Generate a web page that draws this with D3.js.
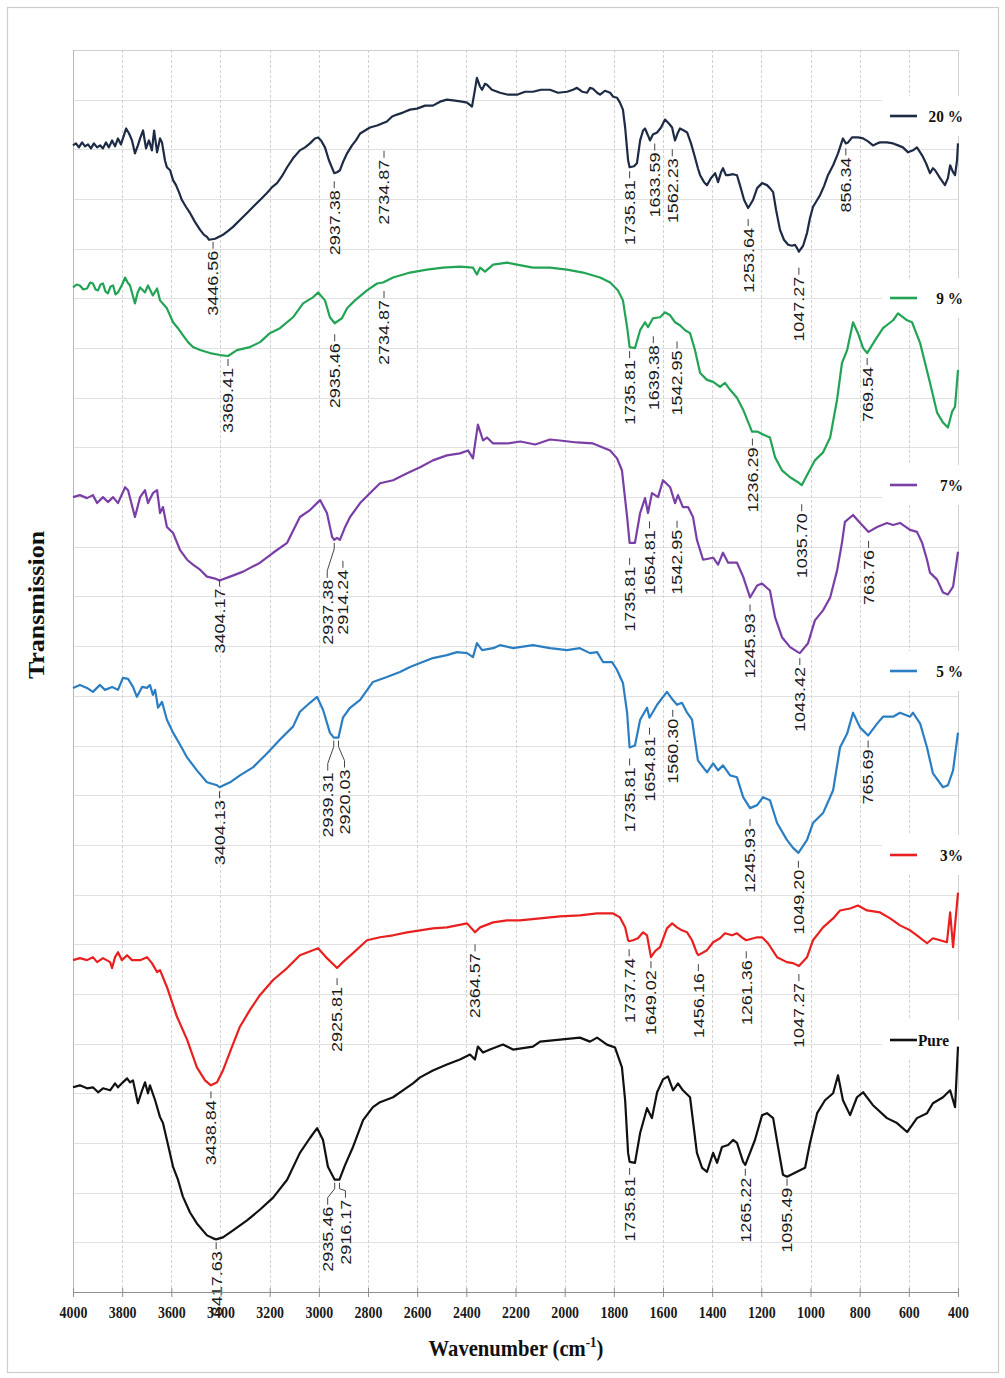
<!DOCTYPE html>
<html>
<head>
<meta charset="utf-8">
<script src="https://cdn.jsdelivr.net/npm/d3@7/dist/d3.min.js"></script>
<style>
  html, body { margin: 0; padding: 0; background: #fff; }
  svg { display: block; }
</style>
</head>
<body>
<svg id="chart" width="1005" height="1378"></svg>
<script>
// ---------- data: FTIR spectra, [wavenumber (cm-1), transmission (a.u., offset stack)] ----------
const wavenumberTicks = d3.range(4000, 399, -200);
const seriesNames = ["20 %", "9 %", "7%", "5 %", "3%", "Pure"];

const spectrum20 = [[4000,1154],[3988,1156],[3976,1152],[3963,1157],[3951,1153],[3939,1155],[3927,1151],[3915,1156],[3902,1152],[3890,1154],[3878,1151],[3866,1157],[3854,1152],[3841,1159],[3829,1153],[3817,1161],[3805,1155],[3793,1164],[3784,1171],[3772,1166],[3760,1159],[3748,1146],[3736,1154],[3727,1161],[3715,1169],[3703,1151],[3691,1159],[3679,1149],[3670,1169],[3658,1147],[3646,1161],[3638,1157],[3626,1139],[3618,1132],[3605,1129],[3593,1119],[3581,1114],[3569,1107],[3557,1099],[3540,1092],[3524,1086],[3504,1077],[3483,1069],[3467,1064],[3455,1062],[3446.56,1059],[3422,1060],[3406,1062],[3390,1064],[3369,1068],[3349,1072],[3321,1079],[3292,1086],[3260,1094],[3231,1101],[3211,1106],[3190,1112],[3170,1116],[3150,1123],[3129,1132],[3105,1141],[3077,1149],[3056,1152],[3036,1156],[3016,1161],[3003,1162],[2991,1159],[2975,1152],[2959,1139],[2937.38,1126],[2926,1127],[2914,1129],[2902,1137],[2885,1146],[2865,1154],[2849,1159],[2832,1166],[2812,1169],[2792,1172],[2763,1174],[2743,1176],[2723,1178],[2702,1183],[2682,1185],[2658,1187],[2629,1190],[2601,1191],[2568,1194],[2536,1194],[2507,1198],[2479,1200],[2446,1199],[2418,1198],[2397,1197],[2377,1193],[2365,1210],[2357,1222],[2344,1213],[2336,1210],[2324,1216],[2316,1215],[2296,1210],[2263,1207],[2230,1205],[2194,1205],[2161,1208],[2129,1208],[2096,1210],[2060,1210],[2027,1207],[1990,1208],[1966,1210],[1950,1212],[1929,1208],[1909,1207],[1897,1212],[1885,1211],[1868,1207],[1856,1205],[1836,1209],[1815,1207],[1803,1203],[1787,1202],[1775,1197],[1763,1190],[1754,1172],[1742,1139],[1735.81,1132],[1718,1133],[1706,1136],[1693,1159],[1681,1169],[1673,1171],[1661,1164],[1653,1159],[1641,1165],[1624,1167],[1608,1172],[1592,1180],[1576,1176],[1563,1172],[1555,1163],[1551,1159],[1539,1167],[1531,1171],[1515,1169],[1502,1167],[1486,1156],[1470,1142],[1458,1131],[1449,1124],[1433,1117],[1421,1114],[1405,1121],[1388,1126],[1376,1117],[1364,1127],[1356,1131],[1344,1124],[1335,1124],[1315,1125],[1299,1124],[1287,1114],[1270,1099],[1253.64,1091],[1246,1094],[1234,1099],[1217,1111],[1197,1116],[1177,1114],[1165,1111],[1152,1107],[1140,1089],[1124,1069],[1108,1059],[1091,1054],[1075,1053],[1063,1054],[1051,1049],[1047.27,1047],[1030,1053],[1014,1066],[1002,1081],[990,1092],[973,1099],[961,1104],[945,1113],[929,1124],[908,1134],[888,1146],[868,1161],[856.34,1156],[847,1157],[831,1162],[807,1162],[786,1161],[766,1158],[746,1154],[729,1156],[717,1157],[689,1157],[664,1156],[644,1154],[624,1152],[603,1147],[583,1149],[567,1152],[546,1144],[530,1136],[514,1126],[502,1131],[493,1129],[473,1121],[453,1114],[441,1121],[432,1134],[420,1127],[412,1124],[404,1139],[400,1156]];

const spectrum9 = [[4000,1011],[3985,1014],[3972,1013],[3958,1009],[3943,1010],[3930,1016],[3919,1015],[3908,1009],[3898,1008],[3888,1014],[3878,1015],[3868,1007],[3858,1005],[3847,1012],[3837,1013],[3827,1004],[3817,1006],[3800,1014],[3788,1021],[3778,1016],[3768,1013],[3748,995],[3737,1006],[3727,1011],[3707,1006],[3695,1013],[3675,1003],[3658,1010],[3646,998],[3618,990],[3593,976],[3573,970],[3553,963],[3532,956],[3512,951],[3483,948],[3443,945],[3402,943],[3369.41,942],[3333,948],[3280,951],[3239,956],[3199,965],[3158,970],[3105,981],[3064,995],[3024,1001],[3003,1006],[2975,998],[2955,981],[2935.46,975],[2906,980],[2885,990],[2853,998],[2804,1008],[2763,1015],[2739,1016],[2698,1021],[2629,1026],[2560,1029],[2495,1031],[2426,1032],[2373,1031],[2357,1024],[2344,1031],[2324,1027],[2291,1034],[2234,1036],[2194,1034],[2129,1031],[2060,1031],[1990,1029],[1925,1026],[1856,1021],[1815,1016],[1783,1008],[1763,998],[1746,971],[1735.81,951],[1714,950],[1693,968],[1673,976],[1661,971],[1641,980],[1612,981],[1592,986],[1571,983],[1551,976],[1531,973],[1510,968],[1490,965],[1470,948],[1449,925],[1421,918],[1396,916],[1368,911],[1348,915],[1327,908],[1299,900],[1274,888],[1238,866],[1217,866],[1193,863],[1165,860],[1144,840],[1116,827],[1083,820],[1051,815],[1035.70,812],[1010,824],[982,837],[949,845],[920,860],[892,898],[872,935],[851,948],[827,976],[807,965],[786,950],[769.54,945],[737,958],[705,970],[664,978],[644,985],[607,978],[587,976],[554,955],[514,915],[485,885],[461,875],[441,870],[424,886],[412,891],[400,928]];

const spectrum7 = [[4000,800],[3972,802],[3943,799],[3919,802],[3902,794],[3878,800],[3858,795],[3837,800],[3817,794],[3788,810],[3776,807],[3748,780],[3727,800],[3707,807],[3695,794],[3675,804],[3658,807],[3646,784],[3634,790],[3618,770],[3593,764],[3565,747],[3536,737],[3512,732],[3483,727],[3455,720],[3422,718],[3404.17,716],[3361,720],[3308,725],[3239,734],[3186,744],[3129,754],[3077,780],[3036,787],[2995,797],[2967,784],[2946,760],[2937.38,757],[2926,759],[2914.24,757],[2893,770],[2873,780],[2832,794],[2780,807],[2751,814],[2698,817],[2641,824],[2588,830],[2536,837],[2479,842],[2426,844],[2393,847],[2373,839],[2353,873],[2332,857],[2316,860],[2291,854],[2234,854],[2180,856],[2120,853],[2060,858],[2019,857],[1950,855],[1885,854],[1815,847],[1787,839],[1767,827],[1746,780],[1735.81,754],[1714,754],[1693,784],[1673,799],[1661,784],[1645,804],[1620,800],[1600,817],[1571,810],[1551,794],[1539,802],[1519,790],[1498,790],[1478,780],[1462,757],[1437,737],[1396,739],[1376,732],[1356,744],[1335,734],[1299,734],[1274,720],[1245.93,699],[1217,711],[1197,713],[1165,706],[1144,679],[1116,659],[1083,649],[1051,644],[1043.42,643],[1010,653],[982,676],[949,686],[920,699],[892,726],[872,754],[860,775],[827,782],[798,774],[763.76,765],[729,770],[689,774],[664,772],[636,774],[595,767],[567,765],[546,754],[526,737],[514,724],[485,717],[461,704],[441,702],[420,710],[400,745]];

const spectrum5 = [[4000,608],[3972,611],[3943,608],[3919,604],[3890,611],[3870,606],[3841,609],[3817,606],[3797,618],[3776,617],[3756,609],[3740,599],[3719,609],[3699,608],[3687,611],[3675,601],[3666,606],[3654,588],[3638,594],[3618,576],[3593,563],[3565,551],[3536,538],[3496,525],[3455,513],[3414,510],[3404.13,508],[3361,513],[3321,520],[3268,528],[3211,542],[3158,556],[3105,569],[3077,584],[3036,593],[3007,599],[2983,586],[2955,563],[2939.31,558],[2920.03,558],[2902,578],[2873,588],[2832,596],[2780,614],[2723,619],[2670,624],[2629,629],[2588,633],[2536,638],[2479,641],[2438,644],[2397,643],[2373,639],[2357,653],[2336,646],[2291,648],[2263,651],[2210,648],[2129,651],[2060,648],[1990,646],[1938,648],[1897,643],[1868,644],[1844,634],[1807,634],[1787,626],[1763,613],[1746,583],[1735.81,548],[1714,550],[1693,576],[1665,588],[1654.81,578],[1624,591],[1584,604],[1560.30,596],[1543,591],[1523,593],[1502,583],[1482,576],[1458,535],[1421,523],[1396,532],[1376,525],[1356,530],[1327,520],[1299,518],[1274,498],[1245.93,487],[1217,490],[1193,498],[1165,495],[1136,472],[1096,455],[1071,447],[1049.20,442],[1014,455],[990,472],[949,482],[908,505],[880,548],[851,562],[827,583],[798,568],[765.69,560],[729,572],[705,579],[664,579],[636,583],[595,579],[583,583],[554,572],[526,548],[502,522],[461,508],[441,510],[420,525],[400,563]];

const spectrum3 = [[4000,334],[3972,336],[3943,334],[3919,337],[3902,332],[3878,336],[3849,332],[3841,326],[3829,337],[3817,342],[3801,334],[3780,339],[3760,334],[3727,334],[3699,337],[3679,331],[3658,322],[3646,324],[3618,307],[3577,277],[3536,254],[3496,226],[3463,213],[3438.84,208],[3414,211],[3390,223],[3353,247],[3321,267],[3280,284],[3239,299],[3186,314],[3129,326],[3077,339],[3024,344],[3003,346],[2967,336],[2925.81,326],[2902,332],[2861,341],[2804,354],[2751,357],[2698,359],[2641,362],[2588,364],[2536,366],[2479,367],[2397,371],[2364.57,362],[2344,367],[2291,372],[2234,374],[2182,374],[2100,376],[2019,378],[1938,379],[1868,381],[1803,381],[1775,377],[1754,367],[1742,354],[1737.74,353],[1722,354],[1702,356],[1681,362],[1665,359],[1649.02,337],[1632,343],[1612,347],[1584,366],[1563,371],[1543,367],[1523,364],[1502,362],[1482,354],[1462,341],[1456.16,339],[1421,344],[1396,352],[1368,356],[1348,361],[1319,359],[1299,361],[1274,356],[1261.36,354],[1217,357],[1197,357],[1173,351],[1136,337],[1096,332],[1071,331],[1047.27,328],[1014,337],[990,354],[949,367],[908,376],[880,384],[839,386],[807,389],[770,384],[717,382],[676,376],[636,369],[595,364],[567,359],[526,351],[502,356],[473,354],[445,352],[432,382],[420,347],[400,402]];

const spectrumPure = [[4000,206],[3972,208],[3943,205],[3919,206],[3898,201],[3878,205],[3849,203],[3829,210],[3817,206],[3797,211],[3780,215],[3768,211],[3756,213],[3736,190],[3719,203],[3707,211],[3695,200],[3687,208],[3666,193],[3646,176],[3634,170],[3618,153],[3593,126],[3573,113],[3553,96],[3524,80],[3496,69],[3455,57],[3430,54],[3417.63,53],[3390,55],[3349,62],[3292,72],[3239,83],[3186,95],[3129,113],[3077,140],[3036,155],[3007,165],[2983,153],[2963,126],[2935.46,113],[2916.17,113],[2893,128],[2861,146],[2820,173],[2780,186],[2751,191],[2698,196],[2658,203],[2617,210],[2588,216],[2536,223],[2479,229],[2426,234],[2385,239],[2365,234],[2353,247],[2332,241],[2304,244],[2251,249],[2210,244],[2129,247],[2100,252],[2019,254],[1938,256],[1897,252],[1868,256],[1828,249],[1795,246],[1767,226],[1754,193],[1742,140],[1735.81,131],[1714,130],[1693,160],[1665,185],[1645,175],[1624,201],[1600,214],[1580,217],[1559,203],[1539,210],[1519,203],[1490,196],[1462,140],[1441,125],[1421,121],[1396,140],[1380,130],[1360,146],[1335,148],[1315,153],[1299,150],[1274,131],[1265.22,128],[1226,153],[1197,178],[1177,180],[1152,175],[1132,146],[1112,118],[1095.49,116],[1055,121],[1022,125],[1002,150],[973,180],[941,193],[908,200],[888,218],[868,193],[839,178],[811,196],[786,201],[746,188],[689,175],[648,170],[607,161],[567,175],[526,180],[502,190],[461,196],[432,203],[412,186],[400,247]];

// labelled band positions (cm-1) for each spectrum
const peaks20 = [3446.56, 2937.38, 2734.87, 1735.81, 1633.59, 1562.23, 1253.64, 1047.27, 856.34];
const peaks9 = [3369.41, 2935.46, 2734.87, 1735.81, 1639.38, 1542.95, 1236.29, 1035.70, 769.54];
const peaks7 = [3404.17, 2937.38, 2914.24, 1735.81, 1654.81, 1542.95, 1245.93, 1043.42, 763.76];
const peaks5 = [3404.13, 2939.31, 2920.03, 1735.81, 1654.81, 1560.30, 1245.93, 1049.20, 765.69];
const peaks3 = [3438.84, 2925.81, 2364.57, 1737.74, 1649.02, 1456.16, 1261.36, 1047.27];
const peaksPure = [3417.63, 2935.46, 2916.17, 1735.81, 1265.22, 1095.49];

// ---------- layout ----------
const W = 1005, H = 1378;
const plot = { left: 73, right: 958, top: 50, bottom: 1292 };
const seriesColors = ["#1e2b45", "#23a455", "#7a3fa6", "#2b7ec2", "#e8201f", "#111111"];
const legendY = [116, 298, 485, 671, 855, 1040];
// per-label placement: [drop below the curve (px), horizontal shift (px)]
const labelLayout20 = [[11,4],[17,0],[37,0],[13,0],[19,0],[30,0],[20,0],[25,0],[14,0]];
const labelLayout9 = [[12,0],[20,0],[18,0],[13,0],[27,0],[27,0],[16,0],[28,0],[14,0]];
const labelLayout7 = [[8,0],[40,-7],[30,3],[24,0],[25,0],[32,0],[16,0],[14,0],[18,0]];
const labelLayout5 = [[13,0],[35,-6],[32,6],[20,0],[19,0],[19,0],[20,0],[17,0],[14,0]];
const labelLayout3 = [[15,0],[19,0],[21,0],[17,0],[13,0],[18,0],[20,0],[17,0]];
const labelLayoutPure = [[12,0],[27,-7],[20,6],[15,0],[13,0],[11,0]];

const SERIF = "'Liberation Serif', 'Times New Roman', serif";
const SANS = "'Liberation Sans', Arial, sans-serif";

const svg = d3.select("#chart");

const x = d3.scaleLinear().domain([4000, 400]).range([plot.left, plot.right]);
const y = d3.scaleLinear().domain([0, 1250]).range([plot.bottom, plot.top]);

// outer figure frame
svg.append("rect")
  .attr("x", 7.5).attr("y", 7.5).attr("width", 991).attr("height", 1365)
  .attr("fill", "#fff").attr("stroke", "#cdcdcd").attr("stroke-width", 1.2);

// grid
const grid = svg.append("g");
grid.selectAll("line.h")
  .data(d3.range(50, 1251, 50))
  .join("line")
  .attr("x1", plot.left).attr("x2", plot.right)
  .attr("y1", d => Math.round(y(d)) + 0.5).attr("y2", d => Math.round(y(d)) + 0.5)
  .attr("stroke", "#e1e1e1").attr("stroke-width", 1);
grid.selectAll("line.v")
  .data(wavenumberTicks.filter(t => t !== 4000 && t !== 400))
  .join("line")
  .attr("x1", d => Math.round(x(d)) + 0.5).attr("x2", d => Math.round(x(d)) + 0.5)
  .attr("y1", plot.top).attr("y2", plot.bottom)
  .attr("stroke", "#d2d2d2").attr("stroke-width", 1).attr("stroke-dasharray", "3,2");

// plot borders
svg.append("line").attr("x1", plot.left).attr("x2", plot.right).attr("y1", plot.top + 0.5).attr("y2", plot.top + 0.5)
  .attr("stroke", "#cfcfcf");
svg.append("line").attr("x1", plot.left + 0.5).attr("x2", plot.left + 0.5).attr("y1", plot.top).attr("y2", plot.bottom)
  .attr("stroke", "#b8b8b8");
svg.append("line").attr("x1", plot.right + 0.5).attr("x2", plot.right + 0.5).attr("y1", plot.top).attr("y2", plot.bottom)
  .attr("stroke", "#d0d0d0");

const series = [
  { data: spectrum20, peaks: peaks20, layout: labelLayout20 },
  { data: spectrum9, peaks: peaks9, layout: labelLayout9 },
  { data: spectrum7, peaks: peaks7, layout: labelLayout7 },
  { data: spectrum5, peaks: peaks5, layout: labelLayout5 },
  { data: spectrum3, peaks: peaks3, layout: labelLayout3 },
  { data: spectrumPure, peaks: peaksPure, layout: labelLayoutPure }
].map((s, i) => Object.assign(s, { name: seriesNames[i], color: seriesColors[i], ly: legendY[i] }));

// legend backgrounds sit under the curves
svg.append("g").selectAll("rect")
  .data(series)
  .join("rect")
  .attr("x", 882).attr("width", 96)
  .attr("y", d => d.ly - 20).attr("height", 40)
  .attr("fill", "#fff");

// spectra
const line = d3.line().x(d => x(d[0])).y(d => y(d[1])).curve(d3.curveLinear);
svg.append("g").selectAll("path")
  .data(series)
  .join("path")
  .attr("d", d => line(d.data))
  .attr("fill", "none")
  .attr("stroke", d => d.color)
  .attr("stroke-width", 2.2)
  .attr("stroke-linejoin", "round");

// transmission value of a spectrum at a given wavenumber
function valueAt(data, wn) {
  for (let i = 0; i < data.length - 1; i++) {
    const a = data[i], b = data[i + 1];
    if (wn <= a[0] && wn >= b[0]) {
      const t = (a[0] - wn) / (a[0] - b[0]);
      return a[1] + t * (b[1] - a[1]);
    }
  }
  return data[data.length - 1][1];
}

// band labels
const labels = svg.append("g");
series.forEach(s => {
  s.peaks.forEach((wn, i) => {
    const [drop, dx] = s.layout[i];
    const xp = x(wn), yp = y(valueAt(s.data, wn));
    const xl = xp + dx, top = yp + drop;
    if (dx === 0 || Math.abs(dx) < 5) {
      labels.append("line")
        .attr("x1", xl).attr("x2", xl).attr("y1", top - 9).attr("y2", top - 2)
        .attr("stroke", "#444").attr("stroke-width", 1);
    } else {
      labels.append("polyline")
        .attr("points", [[xp, yp + 3], [xp, yp + 9], [xl, top - 9], [xl, top - 2]].map(p => p.join(",")).join(" "))
        .attr("fill", "none").attr("stroke", "#444").attr("stroke-width", 1);
    }
    labels.append("text")
      .attr("transform", `translate(${xl},${top}) scale(0.85,1) rotate(-90)`)
      .attr("text-anchor", "end")
      .attr("dy", "0.35em")
      .attr("font-family", SANS)
      .attr("font-size", 18)
      .attr("fill", "#1a1a1a")
      .text(wn.toFixed(2));
  });
});

// legend
const legend = svg.append("g");
series.forEach(s => {
  legend.append("line")
    .attr("x1", 890).attr("x2", 917).attr("y1", s.ly).attr("y2", s.ly)
    .attr("stroke", s.color).attr("stroke-width", 2.6);
  const isPure = s.name === "Pure";
  legend.append("text")
    .attr("transform", `translate(${isPure ? 918 : 963},${s.ly}) scale(0.9,1)`)
    .attr("text-anchor", isPure ? "start" : "end")
    .attr("dy", "0.33em")
    .attr("font-family", SERIF)
    .attr("font-weight", "bold")
    .attr("font-size", 17)
    .attr("fill", "#111")
    .text(s.name);
});

// x axis
const axis = svg.append("g")
  .attr("transform", `translate(0,${plot.bottom})`)
  .call(d3.axisBottom(x).tickValues(wavenumberTicks).tickFormat(d3.format("d")).tickSizeOuter(0));
axis.select(".domain").attr("stroke", "#8f8f8f");
axis.selectAll(".tick line").attr("y1", -4).attr("y2", 5).attr("stroke", "#8f8f8f");
axis.selectAll(".tick text")
  .attr("y", 26).attr("dy", 0)
  .attr("transform", "scale(0.87,1)")
  .attr("font-family", SERIF).attr("font-weight", "bold").attr("font-size", 16)
  .attr("fill", "#1a1a1a");

// axis titles
const xTitle = svg.append("text")
  .attr("transform", `translate(516,1356) scale(0.86,1)`)
  .attr("text-anchor", "middle")
  .attr("font-family", SERIF).attr("font-weight", "bold").attr("font-size", 24)
  .attr("fill", "#111");
xTitle.append("tspan").text("Wavenumber (cm");
xTitle.append("tspan").attr("dy", -9).attr("font-size", 15).text("-1");
xTitle.append("tspan").attr("dy", 9).text(")");

svg.append("text")
  .attr("transform", "translate(36,605) scale(0.88,1) rotate(-90)")
  .attr("text-anchor", "middle")
  .attr("dy", "0.35em")
  .attr("font-family", SERIF).attr("font-weight", "bold").attr("font-size", 26)
  .attr("fill", "#111")
  .text("Transmission");
</script>
</body>
</html>
